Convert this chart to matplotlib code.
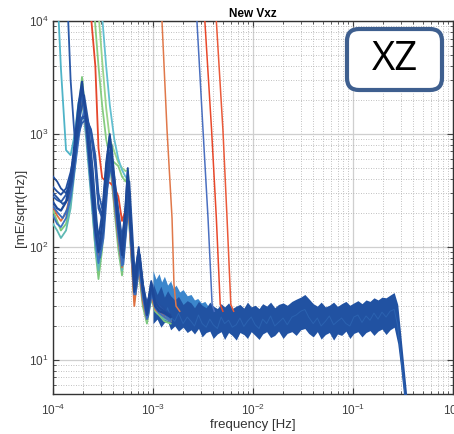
import matplotlib
matplotlib.use("Agg")
import matplotlib.pyplot as plt
from matplotlib.patches import FancyBboxPatch

plt.rcParams['font.family'] = ['Liberation Sans', 'DejaVu Sans']
plt.rcParams['mathtext.default'] = 'regular'

# ---- low frequency spectra (common frequency grid) ----
f_low = [1.0e-4, 1.1e-4, 1.2e-4, 1.35e-4, 1.5e-4, 1.65e-4, 1.8e-4, 1.95e-4, 2.15e-4, 2.4e-4,
         2.65e-4, 2.85e-4, 3.1e-4, 3.4e-4, 3.7e-4, 4.1e-4, 4.5e-4, 4.9e-4, 5.3e-4, 5.6e-4,
         6.0e-4, 6.5e-4, 7.2e-4, 7.9e-4, 8.7e-4, 9.6e-4, 1.05e-3, 1.15e-3, 1.3e-3, 1.5e-3]
# a few runs binned slightly differently
f_low_s = [1.0e-4, 1.12e-4, 1.25e-4, 1.4e-4, 1.55e-4, 1.72e-4, 1.88e-4, 2.05e-4, 2.25e-4, 2.5e-4,
           2.75e-4, 2.95e-4, 3.2e-4, 3.5e-4, 3.85e-4, 4.25e-4, 4.65e-4, 5.05e-4, 5.45e-4, 5.8e-4,
           6.2e-4, 6.7e-4, 7.4e-4, 8.1e-4, 8.9e-4, 9.8e-4, 1.08e-3, 1.18e-3, 1.33e-3, 1.5e-3]

asd_green = [210, 170, 140, 160, 240, 620, 1550, 3200, 1250, 340, 95, 52, 95, 300, 620,
             220, 95, 56, 125, 270, 100, 33, 62, 30, 21, 35, 27, 25, 22, 21]
asd_teal = [160, 140, 120, 140, 220, 480, 1100, 2000, 900, 280, 100, 62, 110, 340, 560,
            240, 110, 62, 130, 260, 95, 36, 66, 34, 22, 37, 28, 26, 23, 22]
asd_cyan = [60000, 20000, 3800, 720, 650, 1000, 1900, 2500, 1150, 380, 140, 95, 150, 360, 700,
            280, 130, 80, 170, 360, 130, 45, 80, 40, 26, 42, 31, 28, 25, 23]
asd_orange = [230, 190, 170, 200, 300, 700, 1400, 2100, 1100, 360, 120, 78, 130, 380, 680,
              250, 115, 66, 140, 290, 105, 30, 68, 33, 23, 37, 28, 26, 24, 22]
asd_blue = [190, 160, 150, 180, 270, 540, 1250, 2300, 1050, 320, 115, 72, 125, 390, 720,
            270, 125, 68, 150, 310, 115, 38, 72, 36, 23, 40, 29, 26, 24, 22]
asd_navy1 = [250, 220, 210, 250, 400, 850, 1800, 2900, 1300, 400, 140, 90, 160, 480, 950,
             340, 150, 85, 200, 460, 150, 40, 90, 42, 25, 48, 30, 27, 26, 24]
asd_navy2 = [340, 310, 290, 330, 460, 720, 1100, 1400, 1450, 1050, 560, 240, 190, 320, 680,
             420, 210, 120, 210, 340, 140, 55, 95, 48, 31, 44, 34, 31, 28, 25]
asd_navy3 = [420, 380, 330, 300, 360, 600, 1300, 2600, 1400, 500, 190, 120, 200, 560, 1000,
             380, 170, 95, 230, 500, 170, 50, 100, 45, 28, 50, 33, 29, 27, 25]
asd_navy4 = [280, 260, 250, 290, 420, 700, 1000, 1250, 1350, 1100, 650, 300, 220, 280, 520,
             360, 190, 110, 190, 300, 130, 50, 88, 44, 30, 42, 32, 30, 27, 24]
asd_navy5 = [1e6, 1e6, 1e5, 30000, 3000, 900, 1200, 1400, 1350, 1000, 500, 220, 180, 300, 640,
             380, 200, 105, 200, 320, 135, 52, 90, 46, 30, 43, 33, 30, 27, 25]
asd_navy6 = [300, 270, 240, 260, 380, 800, 1500, 2200, 1300, 480, 160, 95, 140, 420, 800,
             300, 140, 80, 170, 380, 140, 42, 85, 40, 26, 45, 31, 28, 26, 24]
asd_blue2 = [230, 200, 180, 220, 330, 650, 1200, 1600, 1000, 380, 130, 80, 120, 330, 620,
             260, 120, 70, 150, 300, 110, 38, 75, 37, 24, 40, 29, 27, 25, 23]

# runs still settling at the start (enter from the top)
f_red_a = [2.15e-4, 2.4e-4, 2.65e-4, 2.85e-4, 3.1e-4, 3.4e-4, 3.7e-4, 4.1e-4, 4.5e-4, 4.9e-4,
           5.3e-4, 5.6e-4, 6.0e-4, 6.5e-4, 7.2e-4, 7.9e-4, 8.7e-4, 9.6e-4, 1.05e-3, 1.3e-3]
asd_red_a = [1e6, 11000, 4000, 750, 410, 380, 370, 340, 280, 170,
             210, 300, 115, 42, 75, 38, 24, 40, 29, 25]
f_green_a = [2.15e-4, 2.4e-4, 2.65e-4, 2.85e-4, 3.1e-4, 3.4e-4, 3.7e-4, 4.1e-4, 4.5e-4, 4.9e-4,
             5.3e-4, 5.6e-4, 6.0e-4, 6.5e-4, 7.2e-4, 7.9e-4, 8.7e-4, 9.6e-4, 1.05e-3, 1.3e-3]
asd_green_a = [1e6, 40000, 9000, 4000, 1800, 900, 620, 560, 520, 420,
               380, 430, 160, 50, 80, 36, 22, 38, 28, 24]
f_green_b = [2.4e-4, 2.65e-4, 2.85e-4, 3.1e-4, 3.4e-4, 3.7e-4, 4.1e-4, 4.5e-4, 4.9e-4,
             5.3e-4, 5.6e-4, 6.0e-4, 6.5e-4, 7.2e-4, 7.9e-4, 8.7e-4, 9.6e-4, 1.05e-3, 1.3e-3]
asd_green_b = [1e6, 30000, 12000, 4500, 1700, 900, 700, 560, 500,
               470, 480, 180, 55, 85, 37, 23, 39, 28, 24]
f_cyan_b = [2.65e-4, 2.85e-4, 3.1e-4, 3.4e-4, 3.7e-4, 4.1e-4, 4.5e-4, 4.9e-4,
            5.3e-4, 5.6e-4, 6.0e-4, 6.5e-4, 7.2e-4, 7.9e-4, 8.7e-4, 9.6e-4, 1.05e-3, 1.3e-3]
asd_cyan_b = [1e6, 40000, 11000, 4000, 1800, 900, 600, 480,
              420, 400, 150, 48, 80, 36, 23, 40, 29, 25]

# runs that only settle after ~1-6 mHz
f_orange_c = [1.15e-3, 1.23e-3, 1.38e-3, 1.55e-3, 1.62e-3, 1.7e-3, 1.85e-3]
asd_orange_c = [30000, 10000, 1100, 180, 47, 30, 27]
f_blue_c = [2.6e-3, 2.75e-3, 3.16e-3, 3.55e-3, 3.9e-3, 4.1e-3]
asd_blue_c = [25000, 10000, 1100, 180, 31, 27]
f_red_c = [3.1e-3, 3.3e-3, 3.85e-3, 4.3e-3, 4.7e-3, 5.0e-3]
asd_red_c = [25000, 10000, 1100, 180, 31, 27]
f_red_d = [4.0e-3, 4.3e-3, 5.0e-3, 5.5e-3, 6.0e-3, 6.4e-3]
asd_red_d = [25000, 10000, 1100, 180, 31, 27]

# ---- flat noise floor: envelope of all runs ----
band_f = [1.0e-3, 1.1e-3, 1.2e-3, 1.3e-3, 1.4e-3, 1.5e-3, 1.65e-3, 1.8e-3, 2.0e-3, 2.2e-3,
          2.4e-3, 2.6e-3, 2.85e-3, 3.1e-3, 3.4e-3, 3.7e-3, 4.0e-3, 4.4e-3, 4.8e-3, 5.2e-3,
          5.7e-3, 6.2e-3, 6.8e-3, 7.4e-3, 8.1e-3, 8.8e-3, 9.6e-3, 1.05e-2, 1.15e-2, 1.25e-2,
          1.37e-2, 1.5e-2, 1.65e-2, 1.8e-2, 2.0e-2, 2.2e-2, 2.45e-2, 2.7e-2, 3.0e-2, 3.3e-2,
          3.6e-2, 4.0e-2, 4.4e-2, 4.8e-2, 5.3e-2, 5.8e-2, 6.4e-2, 7.0e-2, 7.7e-2, 8.5e-2,
          9.3e-2, 0.102, 0.112, 0.123, 0.135, 0.148, 0.162, 0.178, 0.195, 0.214,
          0.235, 0.258, 0.28, 0.30, 0.32, 0.34, 0.36, 0.38]
band_hi = [48, 38, 45, 36, 41, 37, 34, 36.5, 31, 33.5,
           32, 29, 33, 30.5, 29, 32.5, 30, 28.5, 31.5, 29.5,
           32, 28.5, 30, 31, 28.8, 32.5, 29.5, 30.5, 28.5, 31.5,
           30, 32.5, 29, 31, 32, 30.5, 33, 34.5, 36, 38,
           35, 31.5, 30, 32.5, 29.5, 30.5, 32.5, 29.8, 31.5, 33,
           30.5, 32, 33.5, 31.5, 34, 33, 35.5, 34, 36, 35.5,
           37.5, 39.5, 31, 17, 9.5, 5.5, 3.2, 2]
band_lo = [21, 23, 19.5, 21.5, 22, 18.5, 20, 18, 19.5, 17.5,
           18.5, 17, 19, 16, 17.5, 18, 15.5, 17, 17.8, 15.2,
           17.5, 16.5, 15, 17.5, 16.8, 15.5, 17.8, 16.5, 15.2, 17,
           17.8, 15.8, 16.5, 18, 15.5, 17.2, 17.8, 16.5, 18.5, 19,
           17.2, 16, 17.8, 15.3, 16.8, 17.5, 15, 17, 16.5, 18,
           15.5, 17.2, 17.8, 16, 17.5, 18.2, 16.5, 18, 18.8, 16.8,
           18.5, 19.5, 14, 8.5, 5, 3, 2, 1.5]
# one run drawn on top of the floor, gives the lighter streaks
band_streak = [30, 25, 28, 23, 29, 24, 22, 26, 21, 24,
               22, 20, 25, 21, 19.5, 23, 20.5, 19, 24, 21,
               22.5, 19.5, 20.5, 23.5, 19.8, 22, 24, 20.5, 19, 23,
               21, 24.5, 20, 21.5, 23.5, 20.5, 24, 25, 27, 28,
               24, 21, 23.5, 20, 22, 24.5, 20.5, 22, 23.5, 21,
               20, 24, 25, 21.5, 24.5, 22.5, 26, 23, 26.5, 24,
               27, 28, 20, 11, 6.5, 4, 2.5, 1.6]
# lighter runs sitting above the floor around 1-4 mHz
light_f = [1.0e-3, 1.07e-3, 1.15e-3, 1.22e-3, 1.3e-3, 1.4e-3, 1.5e-3, 1.6e-3, 1.7e-3, 1.85e-3,
           2.0e-3, 2.2e-3, 2.4e-3, 2.6e-3, 2.8e-3, 3.05e-3, 3.3e-3, 3.55e-3, 3.8e-3]
light_hi = [62, 52, 58, 49, 55, 46, 50, 43, 46, 40, 42, 37, 38, 34, 35, 32, 33, 30, 31]
light_lo = [30, 30, 29, 29, 28, 28, 27, 27, 27, 26, 26, 26, 26, 25, 25, 25, 25, 25, 25]

fig = plt.figure(figsize=(4.54, 4.34), dpi=100)
ax = fig.add_axes([53 / 454, 40 / 434, 400 / 454, 373 / 434])

ax.fill_between(light_f, light_lo, light_hi, color="#3b86cc", lw=0, zorder=2)
ax.fill_between(band_f, band_lo, band_hi, color="#2152a2", lw=0, zorder=3)
ax.plot(band_f, band_streak, color="#2b62b0", lw=0.7, zorder=3)

lw = 1.3
ax.plot(f_low, asd_green, color="#7cc87c", lw=lw, zorder=4)
ax.plot(f_low, asd_teal, color="#5fb9b4", lw=lw, zorder=4)
ax.plot(f_low, asd_cyan, color="#4fb4c8", lw=lw, zorder=4)
ax.plot(f_green_a, asd_green_a, color="#86cc80", lw=lw, zorder=4)
ax.plot(f_green_b, asd_green_b, color="#9ad48a", lw=lw, zorder=4)
ax.plot(f_cyan_b, asd_cyan_b, color="#62bfd0", lw=lw, zorder=4)
ax.plot(f_red_a, asd_red_a, color="#e5462b", lw=lw, zorder=4)
ax.plot(f_low, asd_orange, color="#e07040", lw=lw, zorder=4)
ax.plot(f_low, asd_blue, color="#3c74c2", lw=lw, zorder=5)
ax.plot(f_low_s, asd_blue2, color="#3a6cbc", lw=lw, zorder=5)
ax.plot(f_low, asd_navy4, color="#2a5aab", lw=lw, zorder=5)
ax.plot(f_low, asd_navy2, color="#2350a0", lw=lw, zorder=5)
ax.plot(f_low, asd_navy5, color="#2a58a8", lw=lw, zorder=5)
ax.plot(f_low_s, asd_navy6, color="#24529f", lw=lw, zorder=5)
ax.plot(f_low, asd_navy3, color="#1f4b9a", lw=lw, zorder=5)
ax.plot(f_low, asd_navy1, color="#1d4898", lw=1.6, zorder=5)

ax.plot(f_orange_c, asd_orange_c, color="#e0784a", lw=1.1, zorder=4)
ax.plot(f_blue_c, asd_blue_c, color="#4a6fc0", lw=1.1, zorder=4)
ax.plot(f_red_c, asd_red_c, color="#e8482a", lw=1.1, zorder=4)
ax.plot(f_red_d, asd_red_d, color="#ea5a3a", lw=1.1, zorder=4)

ax.set_xscale("log")
ax.set_yscale("log")
ax.set_xlim(1e-4, 1e0)
ax.set_ylim(5, 1e4)

ax.grid(True, which="major", color="#cfcfcf", lw=0.9, ls="-")
ax.grid(True, which="minor", color="#adadad", lw=0.6, ls=(0, (1, 2)))
ax.set_axisbelow(True)
ax.tick_params(which="both", direction="in", top=True, right=True,
               labelsize=8.5, labelcolor="#404040", color="#404040")
ax.tick_params(axis="x", which="major", pad=6)
ax.tick_params(which="major", length=4)
ax.tick_params(which="minor", length=2)
for s in ax.spines.values():
    s.set_color("#333333")
    s.set_linewidth(1.0)

ax.set_title("New Vxz", fontsize=8.5, fontweight="bold", pad=3)
ax.set_xlabel("frequency [Hz]", fontsize=9.5, color="#333333", labelpad=1)
ax.set_ylabel("[mE/sqrt(Hz)]", fontsize=9.5, color="#333333", labelpad=1)

# channel tag in the upper right corner
tag = FancyBboxPatch((3.47, 3.44), 0.95, 0.61, boxstyle="round,pad=0,rounding_size=0.12",
                     transform=fig.dpi_scale_trans, facecolor="white",
                     edgecolor="#3e5f8f", linewidth=3, zorder=10)
fig.add_artist(tag)
fig.text(3.945, 3.745, "XZ", transform=fig.dpi_scale_trans, fontsize=29,
         family="Open Sans", ha="center", va="center", color="black", zorder=11)

fig.savefig("out.png", dpi=100)
